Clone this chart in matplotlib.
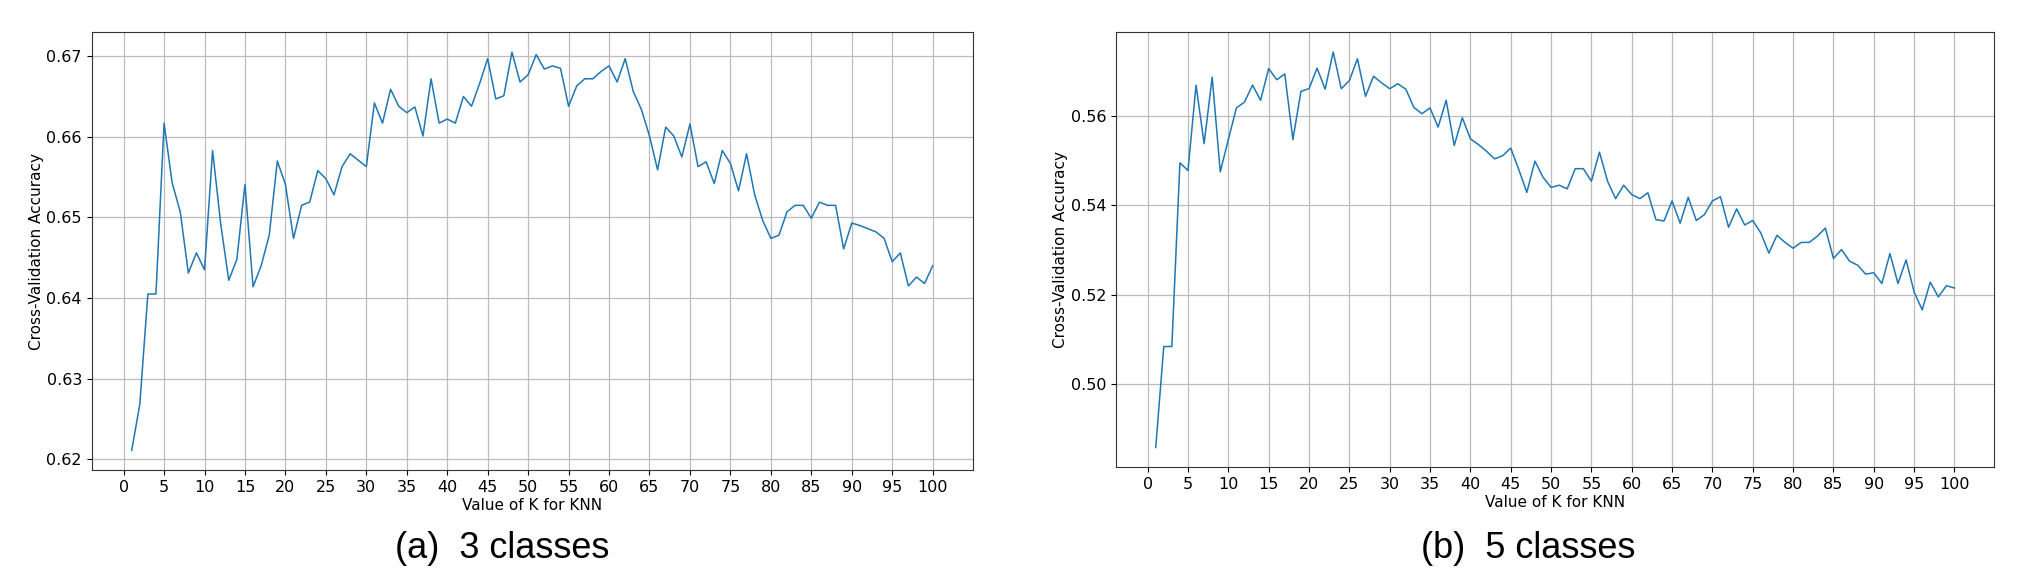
import matplotlib.pyplot as plt
import numpy as np

# --- Data ---

k_values = list(range(1, 101))

acc_3_classes = [
    0.6211, 0.6268, 0.6405, 0.6405, 0.6617, 0.6543, 0.6507, 0.6431, 0.6456, 0.6435,
    0.6583, 0.6492, 0.6422, 0.6448, 0.6541, 0.6414, 0.6440, 0.6478, 0.6570, 0.6541,
    0.6474, 0.6515, 0.6519, 0.6558, 0.6548, 0.6528, 0.6563, 0.6579, 0.6571, 0.6563,
    0.6642, 0.6617, 0.6659, 0.6638, 0.6630, 0.6637, 0.6601, 0.6672, 0.6617, 0.6622,
    0.6617, 0.6650, 0.6638, 0.6666, 0.6697, 0.6647, 0.6651, 0.6705, 0.6668, 0.6677,
    0.6702, 0.6684, 0.6688, 0.6685, 0.6638, 0.6663, 0.6672, 0.6672, 0.6681, 0.6688,
    0.6668, 0.6697, 0.6656, 0.6634, 0.6601, 0.6559, 0.6612, 0.6601, 0.6575, 0.6616,
    0.6563, 0.6569, 0.6542, 0.6583, 0.6567, 0.6533, 0.6579, 0.6528, 0.6496, 0.6474,
    0.6478, 0.6507, 0.6515, 0.6515, 0.6499, 0.6519, 0.6515, 0.6515, 0.6461, 0.6493,
    0.6490, 0.6486, 0.6482, 0.6474, 0.6445, 0.6456, 0.6415, 0.6426, 0.6418, 0.6440,
]

acc_5_classes = [
    0.4858, 0.5084, 0.5084, 0.5495, 0.5478, 0.5669, 0.5538, 0.5687, 0.5475, 0.5547,
    0.5618, 0.5631, 0.5669, 0.5635, 0.5706, 0.5681, 0.5694, 0.5547, 0.5655, 0.5661,
    0.5707, 0.5660, 0.5743, 0.5661, 0.5679, 0.5728, 0.5644, 0.5689, 0.5674, 0.5661,
    0.5672, 0.5660, 0.5619, 0.5605, 0.5618, 0.5575, 0.5635, 0.5534, 0.5596, 0.5549,
    0.5536, 0.5521, 0.5504, 0.5511, 0.5528, 0.5480, 0.5429, 0.5499, 0.5463, 0.5440,
    0.5445, 0.5437, 0.5482, 0.5482, 0.5454, 0.5519, 0.5454, 0.5415, 0.5445, 0.5424,
    0.5415, 0.5428, 0.5368, 0.5365, 0.5410, 0.5360, 0.5418, 0.5366, 0.5379, 0.5410,
    0.5419, 0.5351, 0.5392, 0.5356, 0.5366, 0.5338, 0.5293, 0.5333, 0.5317, 0.5304,
    0.5317, 0.5317, 0.5331, 0.5349, 0.5281, 0.5301, 0.5275, 0.5266, 0.5246, 0.5249,
    0.5225, 0.5292, 0.5225, 0.5278, 0.5206, 0.5166, 0.5228, 0.5195, 0.5220, 0.5215,
]

captions = ["(a)  3 classes", "(b)  5 classes"]
x_ticks = np.arange(0, 101, 5)

# --- Plot ---

fig = plt.figure(figsize=(20.32, 5.88), dpi=100)

ax_left = fig.add_axes([0.0451, 0.2002, 0.4336, 0.7449])
ax_right = fig.add_axes([0.5491, 0.2053, 0.4324, 0.7398])

for ax, acc in [(ax_left, acc_3_classes), (ax_right, acc_5_classes)]:
    ax.plot(k_values, acc, color="#1f77b4", linewidth=1.1)
    ax.set_xticks(x_ticks)
    ax.set_xlabel("Value of K for KNN", fontsize=11, labelpad=2)
    ax.set_ylabel("Cross-Validation Accuracy", fontsize=11, labelpad=2)
    ax.tick_params(labelsize=11.5)
    ax.grid(True, color="#bcbcbc", linewidth=0.9)
    for s in ax.spines.values():
        s.set_color("#333333")

ax_left.set_yticks([0.62, 0.63, 0.64, 0.65, 0.66, 0.67])
ax_right.set_yticks([0.50, 0.52, 0.54, 0.56])
ax_right.yaxis.set_major_formatter(plt.FormatStrFormatter("%.2f"))

fig.text(0.247, 0.068, captions[0], ha="center", va="center",
         fontsize=26, family="Liberation Sans")
fig.text(0.752, 0.068, captions[1], ha="center", va="center",
         fontsize=26, family="Liberation Sans")

fig.savefig("out.png", dpi=100)
